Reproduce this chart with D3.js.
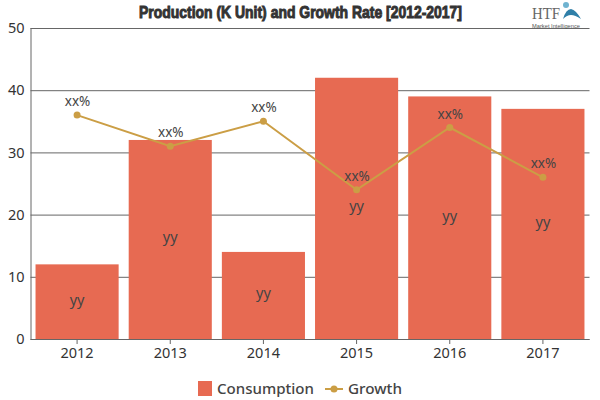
<!DOCTYPE html>
<html>
<head>
<meta charset="utf-8">
<script src="https://cdn.jsdelivr.net/npm/d3@7"></script>
<style>
html, body { margin: 0; padding: 0; background: #fff; }
svg { display: block; }
</style>
</head>
<body>
<div id="chart"></div>
<script>
var years = ["2012", "2013", "2014", "2015", "2016", "2017"];
var consumption = [12, 32, 14, 42, 39, 37];
var growth = [36, 31, 35, 24, 34, 26];
var yTicks = [0, 10, 20, 30, 40, 50];
var barLabel = "yy";
var lineLabel = "xx%";
var titleText = "Production (K Unit) and Growth Rate [2012-2017]";

var width = 600, height = 400;
var margin = { top: 28, right: 10.5, bottom: 61, left: 30.5 };
var font = "'Noto Sans', 'Open Sans', sans-serif";

var svg = d3.select("#chart").append("svg")
	.attr("width", width)
	.attr("height", height);

var x = d3.scaleBand()
	.domain(years)
	.range([margin.left, width - margin.right])
	.paddingInner(0.108)
	.paddingOuter(0.054);

var y = d3.scaleLinear()
	.domain([0, 50])
	.range([height - margin.bottom, margin.top]);

//gridlines and y axis
var yAxis = d3.axisLeft(y)
	.tickValues(yTicks)
	.tickSize(-(width - margin.left - margin.right))
	.tickPadding(6);

var yG = svg.append("g")
	.attr("transform", "translate(" + margin.left + ",0)")
	.call(yAxis);
yG.selectAll("line").attr("stroke", "#666");
yG.select(".domain").attr("stroke", "#666").attr("d", "M0.5," + margin.top + "V" + (height - margin.bottom));
yG.selectAll("text")
	.attr("font-family", font)
	.attr("font-size", 14.5)
	.attr("fill", "#333");

//bars
svg.selectAll("rect.bar")
	.data(consumption)
	.enter()
	.append("rect")
	.attr("class", "bar")
	.attr("x", function (d, i) { return x(years[i]); })
	.attr("y", function (d) { return y(d); })
	.attr("width", x.bandwidth())
	.attr("height", function (d) { return y(0) - y(d); })
	.attr("fill", "#e76a52");

//x axis
var xAxis = d3.axisBottom(x)
	.tickSize(5)
	.tickPadding(4);

var xG = svg.append("g")
	.attr("transform", "translate(0," + y(0) + ")")
	.call(xAxis);
xG.selectAll("line").attr("stroke", "#666");
xG.select(".domain").attr("stroke", "#666").attr("d", "M" + margin.left + ",0.5H" + (width - margin.right));
xG.selectAll("text")
	.attr("font-family", font)
	.attr("font-size", 14.5)
	.attr("fill", "#333");

//bar labels
svg.selectAll("text.barLabel")
	.data(consumption)
	.enter()
	.append("text")
	.attr("class", "barLabel")
	.attr("x", function (d, i) { return x(years[i]) + x.bandwidth() / 2; })
	.attr("y", function (d) { return y(d / 2) + 3; })
	.attr("text-anchor", "middle")
	.attr("font-family", font)
	.attr("font-size", 14.5)
	.attr("fill", "#444")
	.text(barLabel);

//growth line
var line = d3.line()
	.x(function (d, i) { return x(years[i]) + x.bandwidth() / 2; })
	.y(function (d) { return y(d); });

svg.append("path")
	.datum(growth)
	.attr("d", line)
	.attr("fill", "none")
	.attr("stroke", "#cb9e45")
	.attr("stroke-width", 2);

svg.selectAll("circle.point")
	.data(growth)
	.enter()
	.append("circle")
	.attr("class", "point")
	.attr("cx", function (d, i) { return x(years[i]) + x.bandwidth() / 2; })
	.attr("cy", function (d) { return y(d); })
	.attr("r", 3.5)
	.attr("fill", "#cb9e45");

svg.selectAll("text.lineLabel")
	.data(growth)
	.enter()
	.append("text")
	.attr("class", "lineLabel")
	.attr("x", function (d, i) { return x(years[i]) + x.bandwidth() / 2 + 0.5; })
	.attr("y", function (d) { return y(d) - 9; })
	.attr("text-anchor", "middle")
	.attr("font-family", font)
	.attr("font-size", 13.5)
	.attr("fill", "#444")
	.text(lineLabel);

//title
svg.append("text")
	.attr("x", 139)
	.attr("y", 18)
	.attr("textLength", 323)
	.attr("lengthAdjust", "spacingAndGlyphs")
	.attr("font-family", "'Liberation Sans Narrow', 'Liberation Sans', sans-serif")
	.attr("font-weight", "bold")
	.attr("font-size", 17)
	.attr("stroke", "#333")
	.attr("stroke-width", 1)
	.attr("fill", "#333")
	.text(titleText);

//logo
svg.append("text")
	.attr("x", 532)
	.attr("y", 18.5)
	.attr("textLength", 28)
	.attr("lengthAdjust", "spacingAndGlyphs")
	.attr("font-family", "'Liberation Serif', serif")
	.attr("font-size", 17)
	.attr("fill", "#666")
	.text("HTF");
svg.append("path")
	.attr("d", "M563,19 Q566,9 571,9 Q576,10 581,19 Q575,15 571,15 Q567,15 563,19Z")
	.attr("fill", "#2f7fa8");
svg.append("circle")
	.attr("cx", 566)
	.attr("cy", 5)
	.attr("r", 3)
	.attr("fill", "#6fb3d0");
svg.append("text")
	.attr("x", 532)
	.attr("y", 27.5)
	.attr("textLength", 48)
	.attr("lengthAdjust", "spacingAndGlyphs")
	.attr("font-family", "'Liberation Sans', sans-serif")
	.attr("font-size", 5)
	.attr("fill", "#555")
	.text("Market Intelligence");

//legend
var legend = svg.append("g");
legend.append("rect")
	.attr("x", 198)
	.attr("y", 381)
	.attr("width", 14)
	.attr("height", 15)
	.attr("fill", "#e76a52");
legend.append("text")
	.attr("x", 217)
	.attr("y", 394)
	.attr("textLength", 97)
	.attr("lengthAdjust", "spacingAndGlyphs")
	.attr("font-family", font)
	.attr("font-size", 15)
	.attr("font-weight", 500)
	.attr("fill", "#444")
	.text("Consumption");
legend.append("line")
	.attr("x1", 325)
	.attr("x2", 343)
	.attr("y1", 389)
	.attr("y2", 389)
	.attr("stroke", "#cb9e45")
	.attr("stroke-width", 2);
legend.append("circle")
	.attr("cx", 334)
	.attr("cy", 389)
	.attr("r", 3.5)
	.attr("fill", "#cb9e45");
legend.append("text")
	.attr("x", 348)
	.attr("y", 394)
	.attr("textLength", 54)
	.attr("lengthAdjust", "spacingAndGlyphs")
	.attr("font-family", font)
	.attr("font-size", 15)
	.attr("font-weight", 500)
	.attr("fill", "#444")
	.text("Growth");
</script>
</body>
</html>
